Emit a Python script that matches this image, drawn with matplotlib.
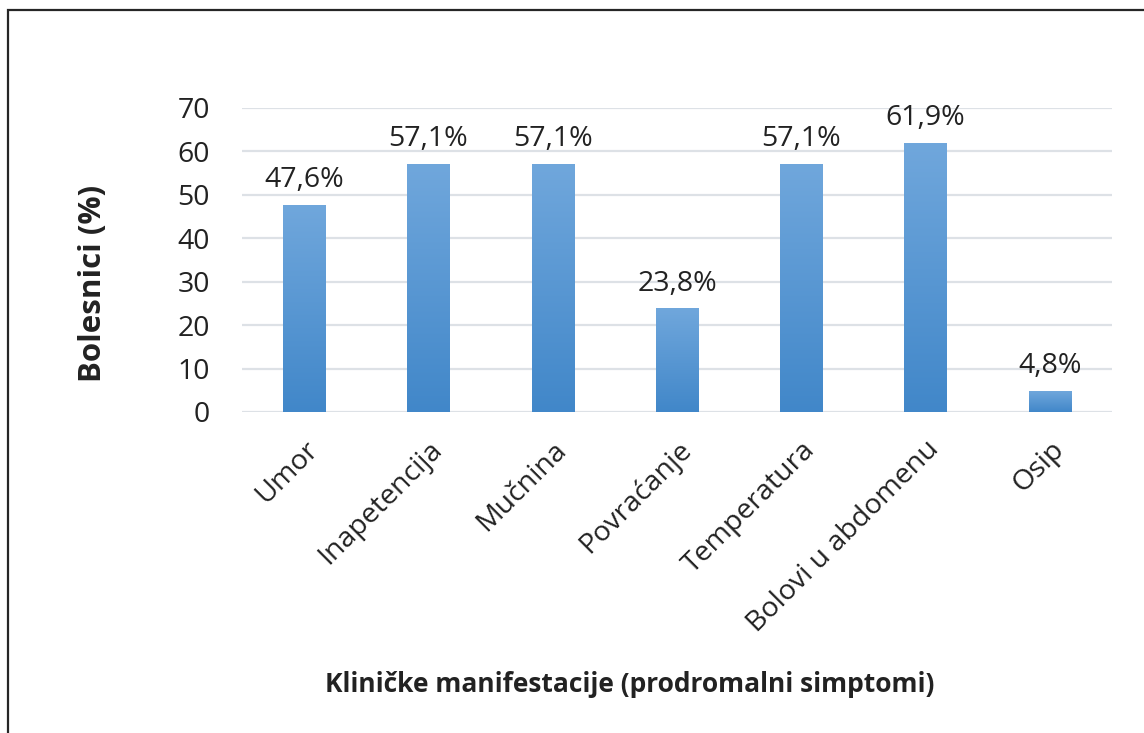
import numpy as np
import matplotlib.pyplot as plt
from matplotlib.colors import LinearSegmentedColormap
from matplotlib.patches import Rectangle

# ─────────────────────────────────────────
# DATA
# ─────────────────────────────────────────
categories = ["Umor", "Inapetencija", "Mučnina", "Povraćanje",
              "Temperatura", "Bolovi u abdomenu", "Osip"]
values = [47.6, 57.1, 57.1, 23.8, 57.1, 61.9, 4.8]
y_ticks = [0, 10, 20, 30, 40, 50, 60, 70]

plt.rcParams['font.family'] = ['Open Sans', 'DejaVu Sans']

fig = plt.figure(figsize=(11.44, 7.33), dpi=100)
ax = fig.add_axes([242 / 1144, 1 - 412 / 733, 870 / 1144, 304 / 733])

# outer frame (cut off on right/bottom like the reference)
fig.patches.append(Rectangle((8 / 1144, -0.1), 1.2, 1 - 10 / 733 + 0.1,
                             transform=fig.transFigure, fill=False,
                             edgecolor='#262626', linewidth=1.6))

x = np.arange(len(categories))
bar_w = 0.34
cmap = LinearSegmentedColormap.from_list("grad", ["#4187c9", "#70a7dc"])
grad = np.linspace(0, 1, 256).reshape(-1, 1)

bars = ax.bar(x, values, width=bar_w, color='none', zorder=3)
for b, v in zip(bars, values):
    x0 = b.get_x()
    ax.imshow(grad, cmap=cmap, origin='lower', aspect='auto',
              extent=(x0, x0 + bar_w, 0, v), zorder=3)
    ax.text(b.get_x() + bar_w / 2, v + 2.5, f"{v:.1f}%".replace('.', ','),
            ha='center', va='bottom', fontsize=20.5, color='#222222')

ax.set_xlim(-0.5, len(categories) - 0.5)
ax.set_ylim(0, 70)
ax.set_yticks(y_ticks)
ax.set_yticklabels([str(t) for t in y_ticks], fontsize=20.5, color='#222222')
ax.set_xticks(x)
ax.set_xticklabels(categories, rotation=45, ha='right', va='top',
                   rotation_mode='anchor', fontsize=20.5, color='#222222')
ax.tick_params(axis='both', length=0)
ax.tick_params(axis='y', pad=23)
ax.tick_params(axis='x', pad=17)

ax.grid(axis='y', color='#dde1e6', linewidth=1.6, zorder=0)
ax.set_axisbelow(True)
for s in ax.spines.values():
    s.set_visible(False)

fig.text(93 / 1144, 1 - 283 / 733, "Bolesnici (%)", rotation=90,
         ha='center', va='center', fontsize=22.5, fontweight='bold',
         color='#222222')
fig.text(630 / 1144, 1 - 684 / 733,
         "Kliničke manifestacije (prodromalni simptomi)",
         ha='center', va='center', fontsize=19, fontweight='bold',
         color='#222222')

fig.savefig("out.png", dpi=100)
